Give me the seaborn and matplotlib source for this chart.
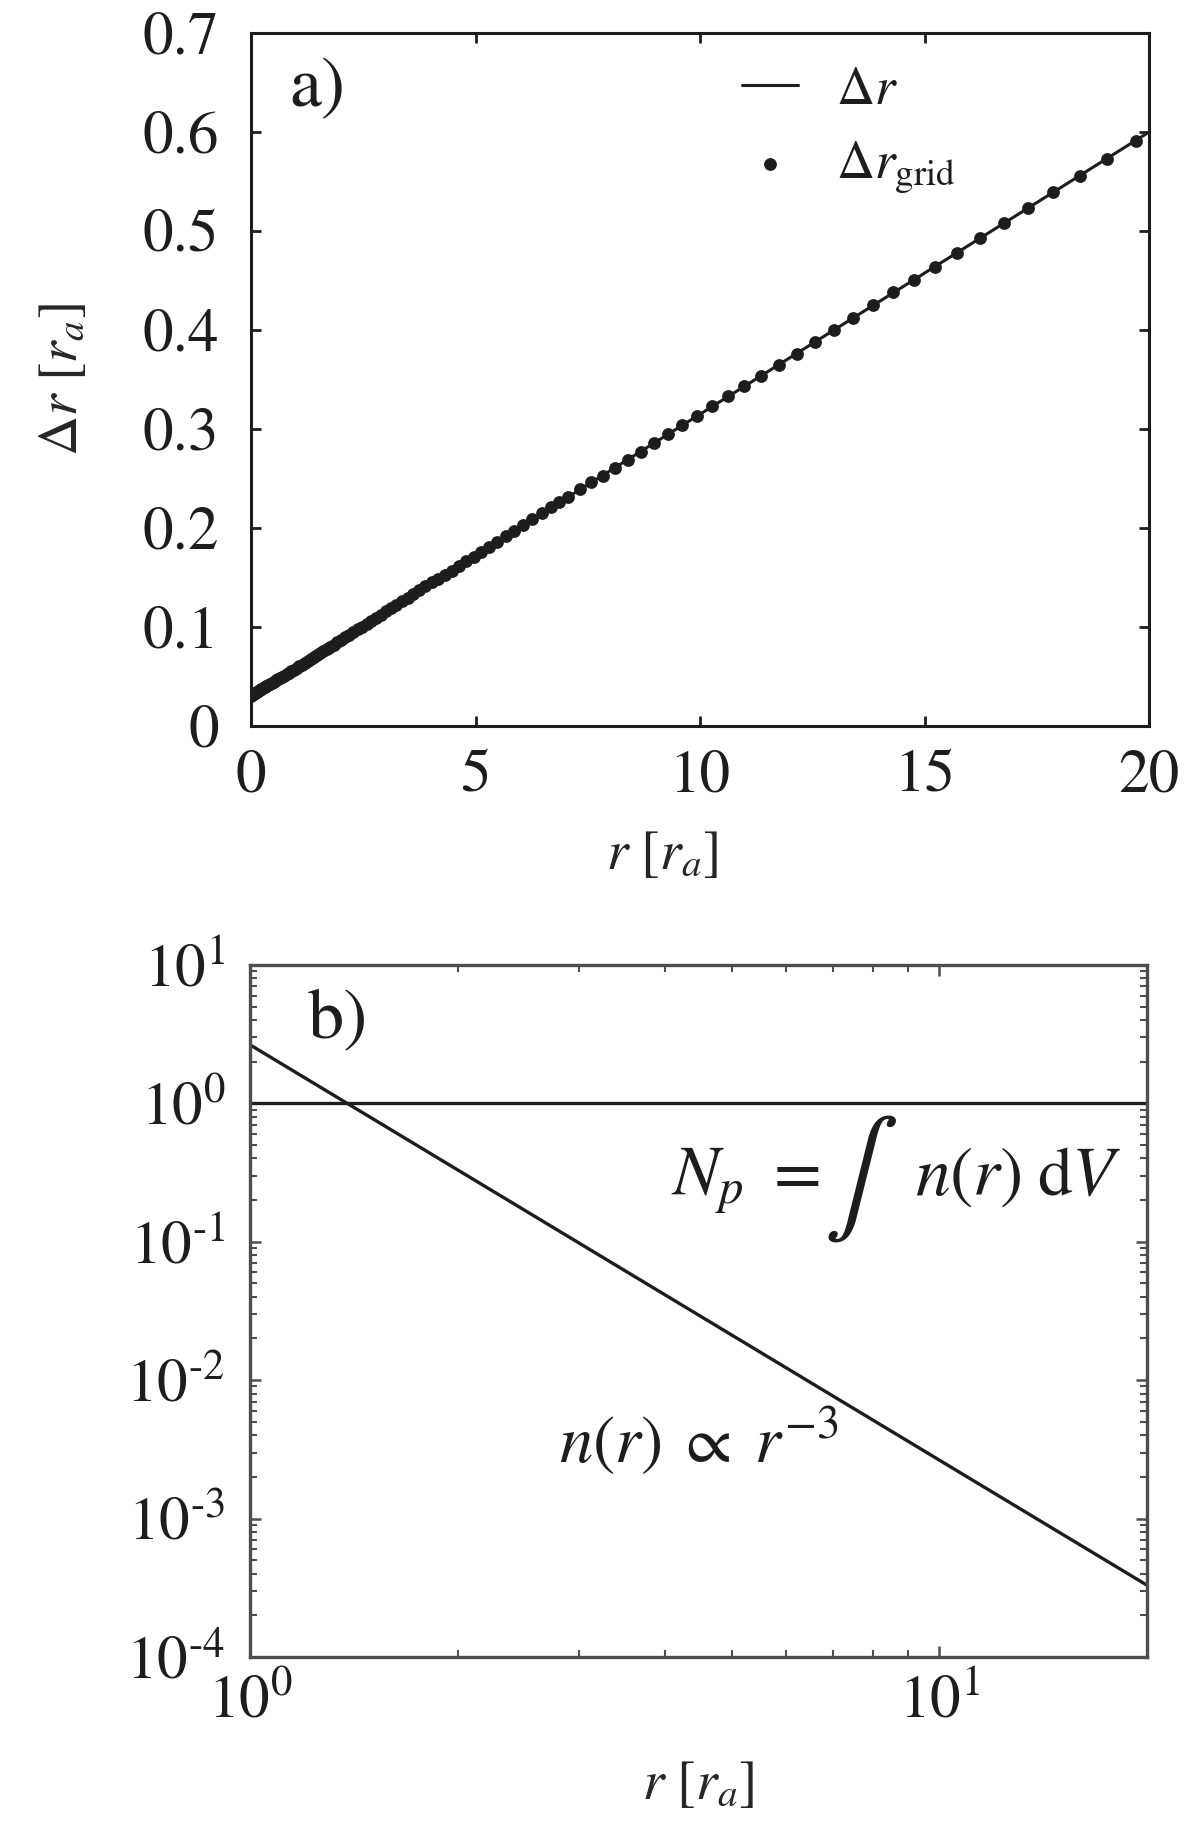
import numpy as np
import pandas as pd
import seaborn as sns
import matplotlib.pyplot as plt
from matplotlib.ticker import FixedLocator, LogLocator, NullFormatter

# panel a) : analytic spacing and the grid points
r_line = [0.0, 20.0]
dr_line = [0.03, 0.60]

r_grid = [0.000, 0.030, 0.061, 0.093, 0.125, 0.159, 0.193, 0.229, 0.265, 0.303,
          0.342, 0.381, 0.422, 0.464, 0.507, 0.552, 0.598, 0.645, 0.693, 0.743,
          0.794, 0.847, 0.901, 0.956, 1.014, 1.072, 1.133, 1.195, 1.259, 1.325,
          1.393, 1.463, 1.534, 1.608, 1.684, 1.762, 1.842, 1.925, 2.010, 2.097,
          2.187, 2.279, 2.374, 2.472, 2.572, 2.675, 2.781, 2.891, 3.003, 3.119,
          3.238, 3.360, 3.486, 3.615, 3.748, 3.885, 4.025, 4.170, 4.319, 4.472,
          4.630, 4.792, 4.958, 5.129, 5.306, 5.487, 5.673, 5.865, 6.062, 6.265,
          6.473, 6.688, 6.870, 7.06, 7.32, 7.58, 7.84, 8.11, 8.39, 8.68,
          8.98, 9.29, 9.60, 9.93, 10.27, 10.62, 10.98, 11.36, 11.75, 12.15,
          12.56, 12.98, 13.41, 13.85, 14.30, 14.76, 15.24, 15.73, 16.24, 16.77,
          17.31, 17.87, 18.46, 19.07, 19.70]
dr_grid = [0.030, 0.031, 0.032, 0.033, 0.034, 0.035, 0.036, 0.037, 0.038, 0.039,
           0.040, 0.041, 0.042, 0.043, 0.044, 0.046, 0.047, 0.048, 0.050, 0.051,
           0.053, 0.054, 0.056, 0.057, 0.059, 0.061, 0.062, 0.064, 0.066, 0.068,
           0.070, 0.072, 0.074, 0.076, 0.078, 0.080, 0.082, 0.085, 0.087, 0.090,
           0.092, 0.095, 0.098, 0.100, 0.103, 0.106, 0.109, 0.112, 0.116, 0.119,
           0.122, 0.126, 0.129, 0.133, 0.137, 0.141, 0.145, 0.149, 0.153, 0.157,
           0.162, 0.167, 0.171, 0.176, 0.181, 0.186, 0.192, 0.197, 0.203, 0.209,
           0.215, 0.221, 0.226, 0.231, 0.239, 0.246, 0.253, 0.261, 0.269, 0.277,
           0.286, 0.295, 0.304, 0.313, 0.323, 0.333, 0.343, 0.354, 0.365, 0.376,
           0.388, 0.400, 0.412, 0.425, 0.438, 0.451, 0.464, 0.478, 0.493, 0.508,
           0.523, 0.539, 0.556, 0.573, 0.591]

xticks_a = [0, 5, 10, 15, 20]
xlabels_a = ['0', '5', '10', '15', '20']
yticks_a = [0, 0.1, 0.2, 0.3, 0.4, 0.5, 0.6, 0.7]
ylabels_a = ['0', '0.1', '0.2', '0.3', '0.4', '0.5', '0.6', '0.7']

# panel b) : density and particle number
r_log = [1.0, 20.0]
n_total = [1.0, 1.0]
n_power = [2.65, 3.3e-4]

xticks_b = [1, 10]
xlabels_b = [r'$10^{0}$', r'$10^{1}$']
yticks_b = [1e-4, 1e-3, 1e-2, 1e-1, 1e0, 1e1]
ylabels_b = [r'$10^{\text{-4}}$', r'$10^{\text{-3}}$', r'$10^{\text{-2}}$',
             r'$10^{\text{-1}}$', r'$10^{0}$', r'$10^{1}$']

ink = '#1e1c1c'
grey = '#4d4d4d'

sns.set_theme(style='ticks')
plt.rcParams['font.family'] = ['STIXGeneral', 'DejaVu Serif']
plt.rcParams['mathtext.fontset'] = 'stix'
plt.rcParams['text.color'] = ink

fig = plt.figure(figsize=(12, 18.38), dpi=100)
ax1 = fig.add_axes([0.2092, 0.6050, 0.7483, 0.3770])
ax2 = fig.add_axes([0.2083, 0.0985, 0.7475, 0.3765])

# ---- a)
df_line = pd.DataFrame({'r': r_line, 'dr': dr_line})
df_grid = pd.DataFrame({'r': r_grid, 'dr': dr_grid})
sns.lineplot(data=df_line, x='r', y='dr', ax=ax1, color=ink, lw=2.2,
             label=r'$\Delta r$')
sns.scatterplot(data=df_grid, x='r', y='dr', ax=ax1, color=ink, s=85,
                linewidth=0, label=r'$\Delta r_{\mathrm{grid}}$', zorder=3)

ax1.set_xlim(0, 20)
ax1.set_ylim(0, 0.7)
ax1.set_xticks(xticks_a)
ax1.set_xticklabels(xlabels_a)
ax1.set_yticks(yticks_a)
ax1.set_yticklabels(ylabels_a)
ax1.tick_params(direction='in', top=True, right=True, length=7, width=2,
                colors=ink, labelsize=44)
ax1.tick_params(axis='x', pad=17)
ax1.tick_params(axis='y', pad=23)
for s in ax1.spines.values():
    s.set_linewidth(2.2)
    s.set_color(ink)

ax1.set_xlabel(r'$r\ \left[r_a\right]$', fontsize=40)
ax1.set_ylabel(r'$\Delta r\ \left[r_a\right]$', fontsize=40)
ax1.xaxis.set_label_coords(0.458, -0.15)
ax1.yaxis.set_label_coords(-0.18, 0.5)

leg = ax1.legend(loc='upper left', bbox_to_anchor=(0.547, 0.952), frameon=False,
                 fontsize=38, handlelength=1.05, handletextpad=0.72,
                 labelspacing=0.45, borderpad=0, borderaxespad=0)
ax1.text(0.043, 0.918, 'a)', transform=ax1.transAxes, fontsize=52,
         ha='left', va='center')

# ---- b)
ax2.set_xscale('log')
ax2.set_yscale('log')
sns.lineplot(x=r_log, y=n_total, ax=ax2, color=ink, lw=2.4)
sns.lineplot(x=r_log, y=n_power, ax=ax2, color=ink, lw=2.4)

ax2.set_xlim(1, 20)
ax2.set_ylim(1e-4, 10)
ax2.xaxis.set_major_locator(FixedLocator(xticks_b))
ax2.set_xticklabels(xlabels_b)
ax2.xaxis.set_minor_locator(LogLocator(base=10, subs=np.arange(2, 10), numticks=20))
ax2.xaxis.set_minor_formatter(NullFormatter())
ax2.yaxis.set_major_locator(FixedLocator(yticks_b))
ax2.set_yticklabels(ylabels_b)
ax2.yaxis.set_minor_locator(LogLocator(base=10, subs=np.arange(2, 10), numticks=20))
ax2.yaxis.set_minor_formatter(NullFormatter())
ax2.tick_params(which='both', direction='in', top=True, right=True,
                colors=grey, labelcolor=ink, labelsize=44)
ax2.tick_params(which='major', length=8, width=1.8)
ax2.tick_params(which='minor', length=5, width=1.5)
ax2.tick_params(axis='x', which='major', pad=13)
ax2.tick_params(axis='y', which='major', pad=18)
for s in ax2.spines.values():
    s.set_linewidth(2.4)
    s.set_color(grey)

ax2.set_xlabel(r'$r\ \left[r_a\right]$', fontsize=40)
ax2.xaxis.set_label_coords(0.5, -0.149)

ax2.text(0.064, 0.92, 'b)', transform=ax2.transAxes, fontsize=52,
         ha='left', va='center')
# N_p = \int n(r) dV, with a tall integral sign as in the original
ax2.text(0.635, 0.668, r'$N_p\ =$', transform=ax2.transAxes,
         fontsize=50, ha='right', va='baseline')
ax2.text(0.681, 0.692, r'$\int$', transform=ax2.transAxes,
         fontsize=80, ha='center', va='center')
ax2.text(0.972, 0.668, r'$n(r)\;\mathrm{d}V$', transform=ax2.transAxes,
         fontsize=50, ha='right', va='baseline')
ax2.text(0.344, 0.280, r'$n(r)\;\propto\;r^{-3}$', transform=ax2.transAxes,
         fontsize=48, ha='left', va='baseline')

fig.savefig('out.png', dpi=100)
